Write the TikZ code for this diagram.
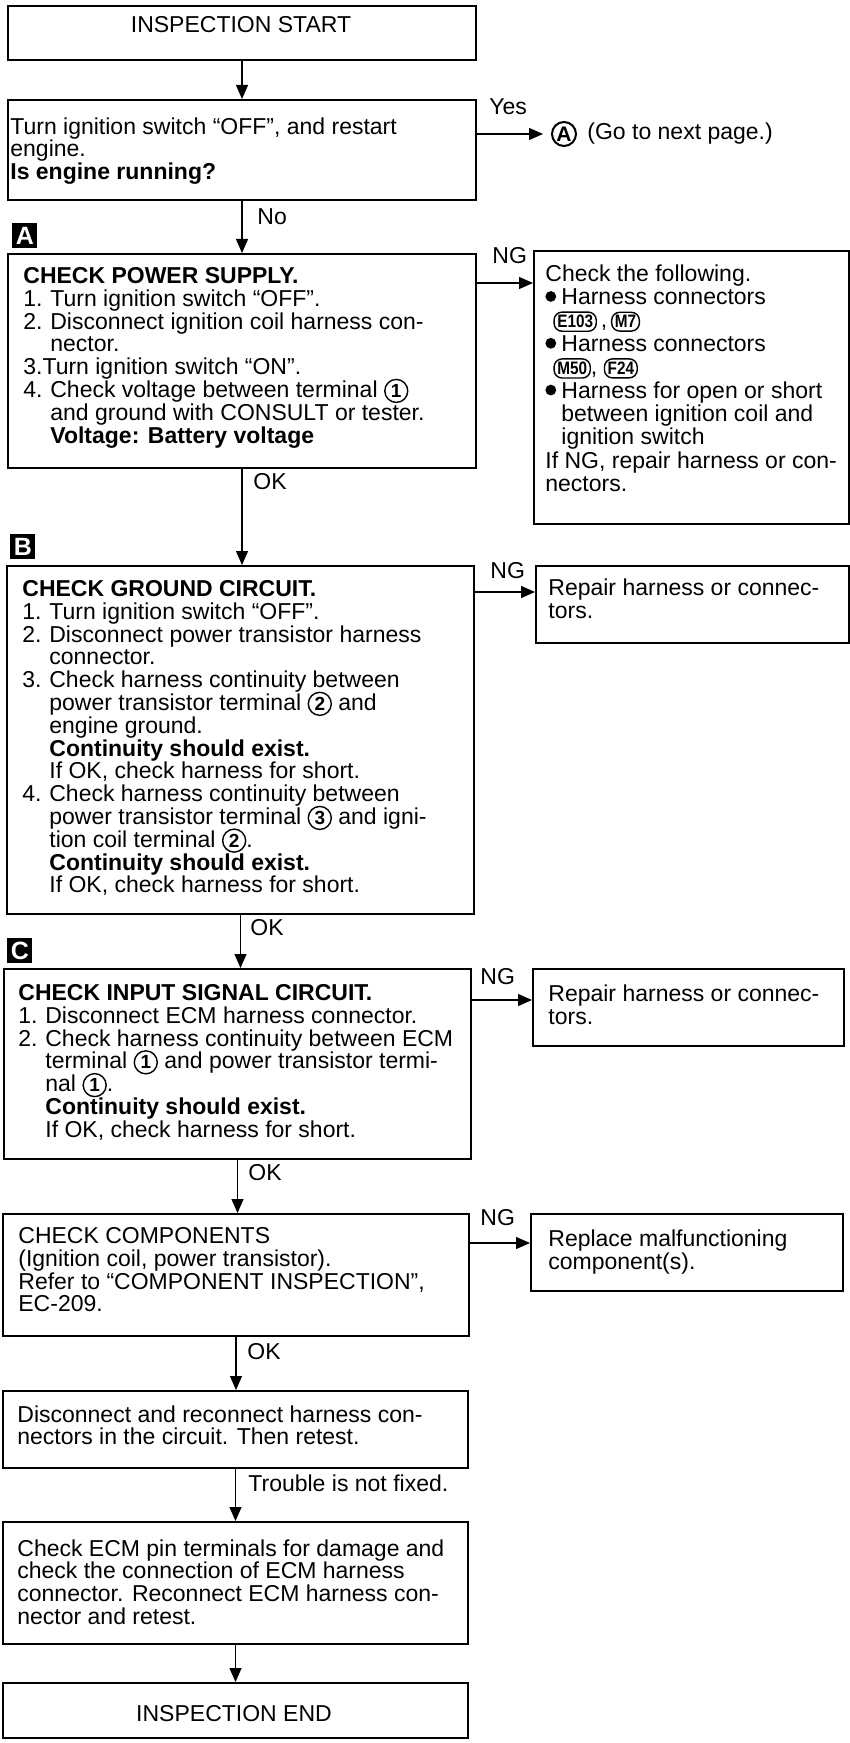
\documentclass[tikz,border=0pt]{standalone}
\usepackage{fontspec}
\setmainfont{Liberation Sans}
\newfontfamily\badgefont[FakeStretch=0.85]{Liberation Sans}
\usetikzlibrary{arrows.meta}

% text settings: fixed line pitch, circled marks may overlap neighbouring lines
\newcommand\bodyfont{\fontsize{11.5pt}{11.4pt}\selectfont\lineskiplimit=-20pt\relax}
\newcommand\sidefont{\fontsize{11.5pt}{11.7pt}\selectfont\lineskiplimit=-20pt\relax}
% circled terminal number
\newcommand\termno[1]{\smash{\tikz[baseline=(cn.base)]\node[circle,draw,line width=0.7pt,inner sep=0pt,minimum size=11.5pt,font=\bfseries\fontsize{9.5pt}{9.5pt}\selectfont](cn){#1};}}
% harness connector badge
\newcommand\harnessconn[1]{\smash{\tikz[baseline=(cb.base)]\node[draw,line width=0.7pt,rounded corners=4pt,inner xsep=1.6pt,inner ysep=1.6pt,minimum height=9pt,font=\badgefont\bfseries\fontsize{9pt}{9pt}\selectfont](cb){#1};}}
\newcommand\bulletmark{\tikz[baseline=-4pt]\fill (2.7pt,0pt) circle (2.7pt);}
\newcommand\itemno[1]{\makebox[13.5pt][l]{#1}}
\newcommand\contind{\hspace*{13.5pt}}
\newcommand\bulind{\hspace*{8pt}}
\newcommand\bulitem{\makebox[8pt][l]{\bulletmark}}

\tikzset{
  flowbox/.style={draw, line width=1pt, anchor=north west, inner sep=0pt},
  txt/.style={anchor=north west, inner sep=0pt, align=left, font=\bodyfont},
  sidetext/.style={anchor=north west, inner sep=0pt, align=left, font=\sidefont},
  lbl/.style={anchor=west, inner sep=0pt, font=\bodyfont},
  arr/.style={draw, line width=0.6pt, -{Triangle[length=7pt,width=6pt]}},
  tag/.style={fill=black, text=white, anchor=north west, inner sep=0pt,
    minimum size=12.5pt, font=\bfseries\fontsize{12.5pt}{12.5pt}\selectfont},
}

\begin{document}
\begin{tikzpicture}[x=0.5pt,y=-0.5pt]
\useasboundingbox (0,0) rectangle (850,1743);

% ---------- main column ----------
\node[flowbox, minimum width=234pt, minimum height=27pt] (start) at (7,5) {};
\node[font=\bodyfont, inner sep=0pt] (start-t) at (241,25) {INSPECTION START};

\node[flowbox, minimum width=234pt, minimum height=50pt] (q) at (7,99) {};
\node[txt] (q-t) at (10,117) {Turn ignition switch “OFF”, and restart\\
engine.\\
\textbf{Is engine running?}};

\node[tag] (tagA) at (12,223) {A};
\node[flowbox, minimum width=234pt, minimum height=107pt] (pwr) at (7,253) {};
\node[txt] (pwr-t) at (23,267) {\textbf{CHECK POWER SUPPLY.}\\
\itemno{1.}Turn ignition switch “OFF”.\\
\itemno{2.}Disconnect ignition coil harness con-\\
\contind nector.\\
3.Turn ignition switch “ON”.\\
\itemno{4.}Check voltage between terminal \termno{1}\\
\contind and ground with CONSULT or tester.\\
\contind\textbf{Voltage: Battery voltage}};

\node[tag] (tagB) at (10,534) {B};
\node[flowbox, minimum width=233.5pt, minimum height=174pt] (gnd) at (6,565) {};
\node[txt] (gnd-t) at (22,580) {\textbf{CHECK GROUND CIRCUIT.}\\
\itemno{1.}Turn ignition switch “OFF”.\\
\itemno{2.}Disconnect power transistor harness\\
\contind connector.\\
\itemno{3.}Check harness continuity between\\
\contind power transistor terminal \termno{2} and\\
\contind engine ground.\\
\contind\textbf{Continuity should exist.}\\
\contind If OK, check harness for short.\\
\itemno{4.}Check harness continuity between\\
\contind power transistor terminal \termno{3} and igni-\\
\contind tion coil terminal \termno{2}.\\
\contind\textbf{Continuity should exist.}\\
\contind If OK, check harness for short.};

\node[tag] (tagC) at (7,938) {C};
\node[flowbox, minimum width=233.5pt, minimum height=95pt] (sig) at (3,968) {};
\node[txt] (sig-t) at (18,984) {\textbf{CHECK INPUT SIGNAL CIRCUIT.}\\
\itemno{1.}Disconnect ECM harness connector.\\
\itemno{2.}Check harness continuity between ECM\\
\contind terminal \termno{1} and power transistor termi-\\
\contind nal \termno{1}.\\
\contind\textbf{Continuity should exist.}\\
\contind If OK, check harness for short.};

\node[flowbox, minimum width=233pt, minimum height=61pt] (comp) at (2,1213) {};
\node[txt] (comp-t) at (18,1227) {CHECK COMPONENTS\\
(Ignition coil, power transistor).\\
Refer to “COMPONENT INSPECTION”,\\
EC-209.};

\node[flowbox, minimum width=232.5pt, minimum height=38.5pt] (recon) at (2,1390) {};
\node[txt] (recon-t) at (17,1405) {Disconnect and reconnect harness con-\\
nectors in the circuit. Then retest.};

\node[flowbox, minimum width=232.5pt, minimum height=61pt] (pins) at (2,1521) {};
\node[txt] (pins-t) at (17,1539) {Check ECM pin terminals for damage and\\
check the connection of ECM harness\\
connector. Reconnect ECM harness con-\\
nector and retest.};

\node[flowbox, minimum width=232.5pt, minimum height=27.5pt] (finish) at (2,1682) {};
\node[font=\bodyfont, inner sep=0pt] (finish-t) at (234,1714) {INSPECTION END};

% ---------- side column ----------
\node[flowbox, minimum width=157.5pt, minimum height=136.5pt] (chkA) at (533,250) {};
\node[sidetext] (chkA-t) at (545,264) {Check the following.\\
\bulitem Harness connectors\\
\hspace*{4pt}\harnessconn{E103}\,,\,\harnessconn{M7}\\
\bulitem Harness connectors\\
\hspace*{4pt}\harnessconn{M50}, \harnessconn{F24}\\
\bulitem Harness for open or short\\
\bulind between ignition coil and\\
\bulind ignition switch\\
If NG, repair harness or con-\\
nectors.};

\node[flowbox, minimum width=156.5pt, minimum height=38.5pt] (repB) at (535,565) {};
\node[sidetext] (repB-t) at (548,578) {Repair harness or connec-\\tors.};

\node[flowbox, minimum width=155.5pt, minimum height=38.5pt] (repC) at (532,968) {};
\node[sidetext] (repC-t) at (548,984) {Repair harness or connec-\\tors.};

\node[flowbox, minimum width=156pt, minimum height=38.5pt] (repD) at (530,1213) {};
\node[sidetext] (repD-t) at (548,1229) {Replace malfunctioning\\component(s).};

% ---------- jump to next page ----------
\node[lbl] (yes) at (489,107) {Yes};
\node[circle, draw, line width=1pt, inner sep=0pt, minimum size=12pt,
  font=\bfseries\fontsize{10.5pt}{10.5pt}\selectfont] (goA) at (564,134) {A};
\node[lbl] (goA-t) at (587,134) {(Go to next page.)};
\draw[arr, shorten >=4pt] (goA -| q.east) -- (goA.west);

% ---------- vertical flow ----------
\draw[arr] (start.south) -- (start.south |- q.north);
\draw[arr] (q.south) -- (q.south |- pwr.north);
\node[lbl] (no) at (257,217) {No};
\draw[arr] (pwr.south) -- (pwr.south |- gnd.north);
\node[lbl] (okA) at (253,482) {OK};
\draw[arr] (gnd.south) -- (gnd.south |- sig.north);
\node[lbl] (okB) at (250,928) {OK};
\draw[arr] (sig.south) -- (sig.south |- comp.north);
\node[lbl] (okC) at (248,1173) {OK};
\draw[arr] (comp.south) -- (comp.south |- recon.north);
\node[lbl] (okD) at (247,1352) {OK};
\draw[arr] (recon.south) -- (recon.south |- pins.north);
\node[lbl] (notfixed) at (248,1483) {Trouble is not fixed.};
\draw[arr] (pins.south) -- (pins.south |- finish.north);

% ---------- NG branches ----------
\coordinate (ngA) at (500,283);
\coordinate (ngB) at (500,592);
\coordinate (ngC) at (500,1000);
\coordinate (ngD) at (500,1243);
\draw[arr] (pwr.east |- ngA) -- (chkA.west |- ngA);
\draw[arr] (gnd.east |- ngB) -- (repB.west |- ngB);
\draw[arr] (sig.east |- ngC) -- (repC.west |- ngC);
\draw[arr] (comp.east |- ngD) -- (repD.west |- ngD);
\node[lbl] (ngA-t) at (492,256) {NG};
\node[lbl] (ngB-t) at (490,571) {NG};
\node[lbl] (ngC-t) at (480,977) {NG};
\node[lbl] (ngD-t) at (480,1218) {NG};
\end{tikzpicture}
\end{document}
